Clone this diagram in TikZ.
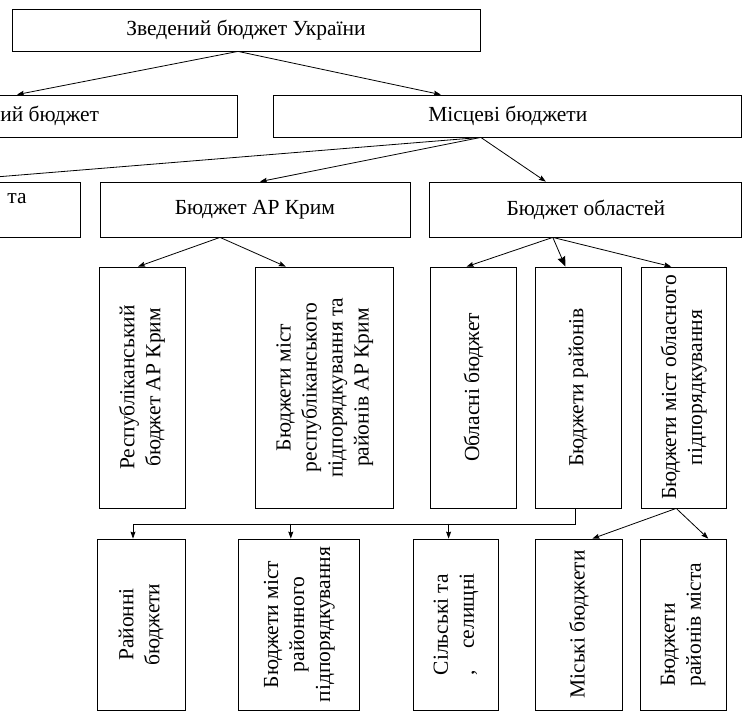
\documentclass[tikz,border=0pt]{standalone}
\usepackage{fontspec}
\setmainfont{Liberation Serif}
\usetikzlibrary{arrows.meta,positioning}

\begin{document}
\begin{tikzpicture}[x=1pt, y=-1pt, line width=0.8pt,
	bx/.style={draw, rectangle, inner sep=0pt, font=\fontsize{21.5}{26}\selectfont},
	txt/.style={rotate=90, align=center, inner sep=0pt, font=\fontsize{21.5}{26}\selectfont},
	arr/.style={-{Stealth[length=7pt, width=5pt, inset=1pt]}}]

	\useasboundingbox (0,0) rectangle (744,711);
	\clip (0,0) rectangle (744,711);

	\node[bx, minimum width=468pt, minimum height=42pt] at (246,30) (s0) {Зведений бюджет України};

	\node[bx, minimum width=456pt, minimum height=42pt] at (9,116) (m1) {Державний бюджет};
	\node[bx, minimum width=468pt, minimum height=42pt, right=36pt of m1] (m2) {Місцеві бюджети};

	\node[bx, minimum width=310pt, minimum height=55pt] at (255,209.5) (r2) {Бюджет АР Крим};
	\node[bx, minimum width=310pt, minimum height=55pt, left=19pt of r2] (r1) {};
	\node[bx, minimum width=312pt, minimum height=55pt, right=19pt of r2] (r3) {Бюджет областей};
	\node[bx, draw=none, align=center, xshift=-7pt] at (r1) (lr1) {Бюджети міст Києва \ та\\Севастополя};

	\node[bx, minimum width=86pt, minimum height=241pt] at (142,387.5) (c1) {};
	\node[bx, minimum width=138pt, minimum height=241pt, right=70pt of c1] (c2) {};
	\node[bx, minimum width=86pt, minimum height=241pt, right=36pt of c2] (c3) {};
	\node[bx, minimum width=86pt, minimum height=241pt, right=18pt of c3] (c4) {};
	\node[bx, minimum width=85pt, minimum height=241pt, right=19pt of c4] (c5) {};
	\node[txt] at (c1) (lc1) {Республіканський\\бюджет АР Крим};
	\node[txt] at (c2) (lc2) {Бюджети міст\\республіканського\\підпорядкування та\\районів АР Крим};
	\node[txt] at (c3) (lc3) {Обласні бюджет};
	\node[txt] at (c4) (lc4) {Бюджети районів};
	\node[txt] at (c5) (lc5) {Бюджети міст обласного\\підпорядкування};

	\node[bx, minimum width=88pt, minimum height=171pt] at (141,624.5) (t1) {};
	\node[bx, minimum width=121pt, minimum height=171pt, right=53pt of t1] (t2) {};
	\node[bx, minimum width=85pt, minimum height=171pt, right=53pt of t2] (t3) {};
	\node[bx, minimum width=87pt, minimum height=171pt, right=36pt of t3] (t4) {};
	\node[bx, minimum width=86pt, minimum height=171pt, right=17pt of t4] (t5) {};
	\node[txt] at (t1) (lt1) {Районні\\бюджети};
	\node[txt] at (t2) (lt2) {Бюджети міст\\районного\\підпорядкування};
	\node[txt] at (t3) (lt3) {Сільські та\\,\quad селищні};
	\node[txt] at (t4) (lt4) {Міські бюджети};
	\node[txt, align=left] at (t5) (lt5) {Бюджети\\районів міста};

	\draw[arr] ([xshift=-8pt]s0.south) -- ([xshift=8pt]m1.north);
	\draw[arr] ([xshift=-8pt]s0.south) -- ([xshift=-67pt]m2.north);

	\draw[arr] ([xshift=-27pt]m2.south) -- ([xshift=14pt]r1.north);
	\draw[arr] ([xshift=-27pt]m2.south) -- ([xshift=5pt]r2.north);
	\draw[arr] ([xshift=-27pt]m2.south) -- ([xshift=-40pt]r3.north);

	\draw[arr] ([xshift=-35pt]r2.south) -- ([xshift=-4pt]c1.north);
	\draw[arr] ([xshift=-35pt]r2.south) -- ([xshift=-39pt]c2.north);
	\draw[arr] ([xshift=-33pt]r3.south) -- ([xshift=-7pt]c3.north);
	\draw[-{Stealth[length=10pt, width=8pt, inset=1pt]}] ([xshift=-33pt]r3.south) -- ([xshift=-13pt]c4.north);
	\draw[arr] ([xshift=-33pt]r3.south) -- ([xshift=-12.5pt]c5.north);

	\draw[arr] ([xshift=-3pt]c4.south) -- ++(0,16) -| ([xshift=-8pt]t1.north);
	\draw[arr] ([xshift=-8.5pt, yshift=15pt]t2.north) -- ([xshift=-8.5pt]t2.north);
	\draw[arr] ([xshift=-7.5pt, yshift=15pt]t3.north) -- ([xshift=-7.5pt]t3.north);

	\draw[arr] ([xshift=-7.5pt]c5.south) -- ([xshift=13.5pt]t4.north);
	\draw[arr] ([xshift=-7.5pt]c5.south) -- ([xshift=25pt]t5.north);

\end{tikzpicture}
\end{document}
